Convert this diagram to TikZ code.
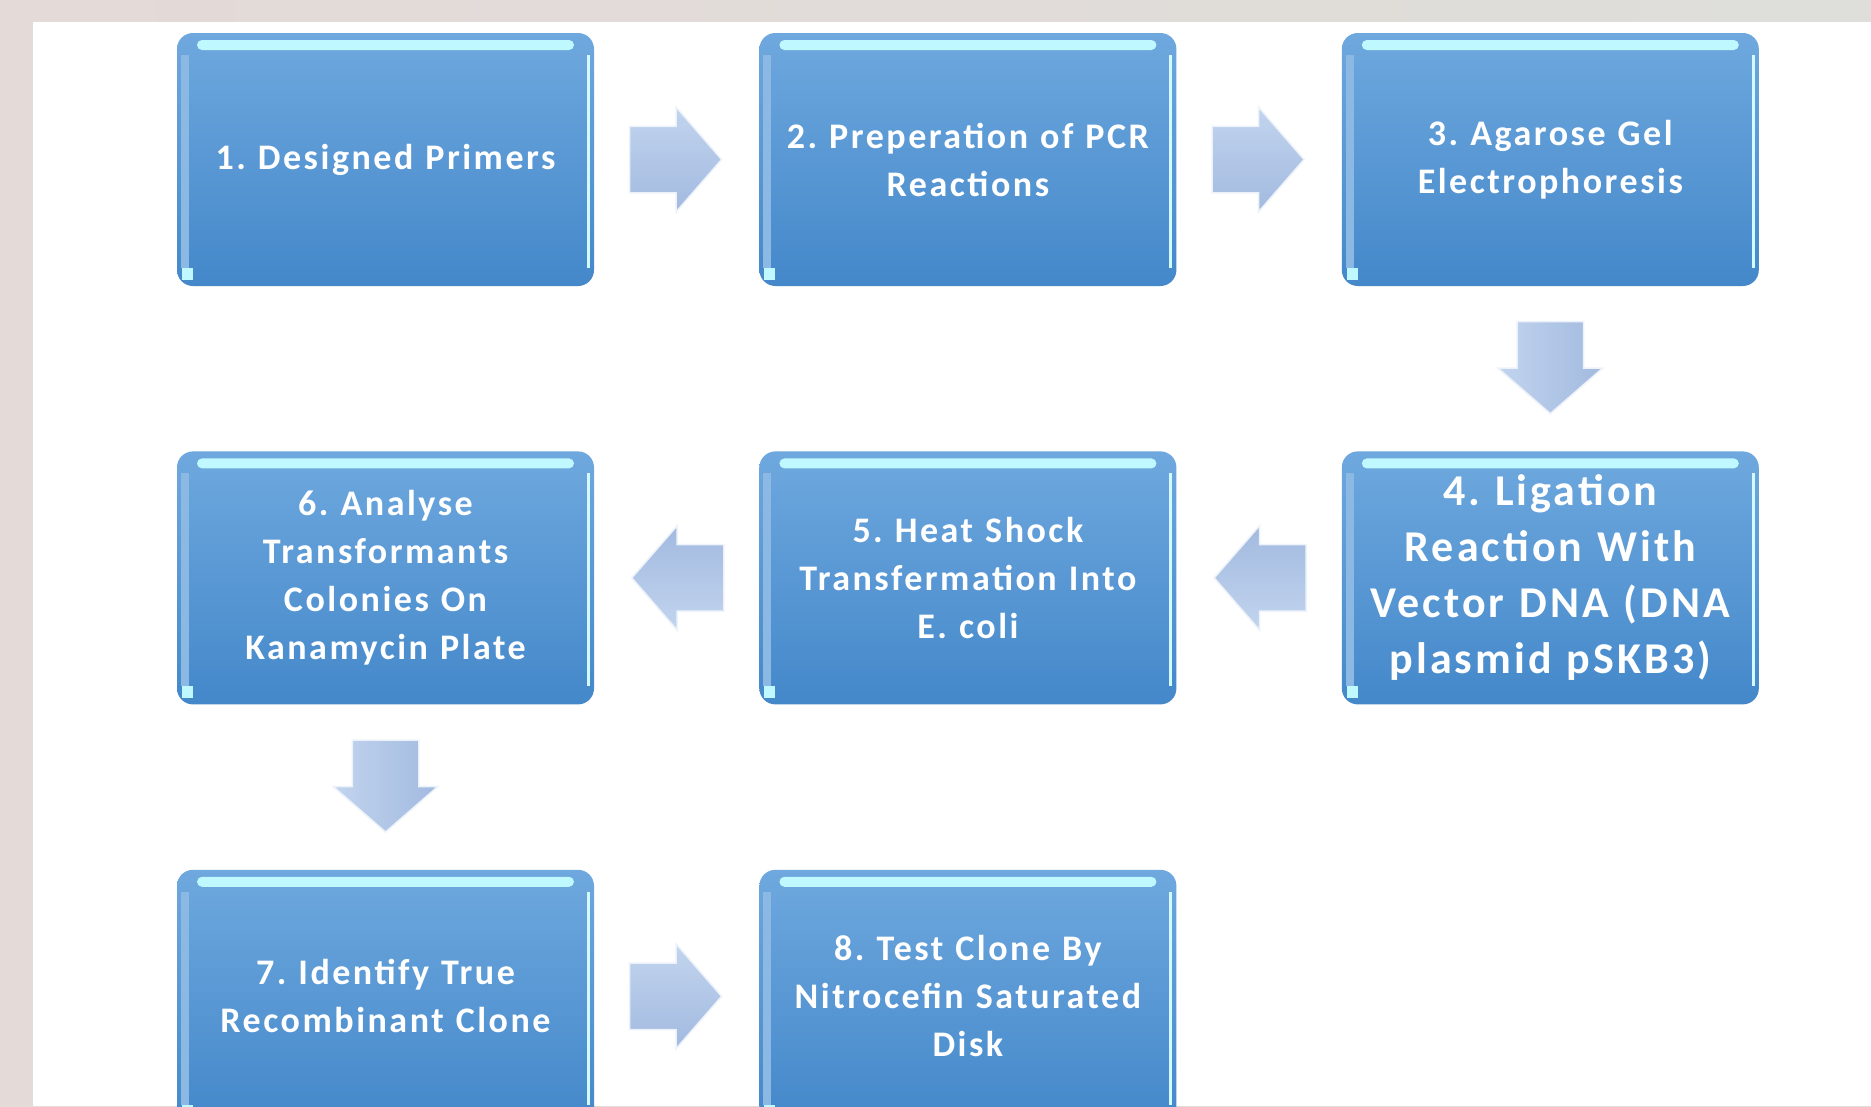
\documentclass[tikz,border=0pt]{standalone}
\usepackage{fontspec}
\setmainfont{Carlito}[LetterSpace=7]
\usetikzlibrary{positioning,shapes.arrows}

\definecolor{boxtop}{RGB}{110,168,222}
\definecolor{boxbot}{RGB}{68,136,202}
\definecolor{boxglow}{RGB}{192,248,255}
\definecolor{arrowtop}{RGB}{194,212,238}
\definecolor{arrowbot}{RGB}{162,186,224}
\definecolor{frameleft}{RGB}{228,218,216}
\definecolor{frameright}{RGB}{222,222,218}

\begin{document}
\frenchspacing
\begin{tikzpicture}[
x=1pt, y=-1pt,
node distance=165pt and 165pt,
stepbox/.style={rounded corners=16pt, top color=boxtop, bottom color=boxbot, minimum width=417pt, minimum height=253pt, text width=405pt, inner sep=0pt, align=center, text=white, font=\bfseries\fontsize{36}{48}\selectfont,
  path picture={
    \fill[boxglow, rounded corners=5pt] ([xshift=20pt,yshift=-7pt]path picture bounding box.north west) rectangle ([xshift=-20pt,yshift=-17pt]path picture bounding box.north east);
    \fill[boxglow!70!white, sharp corners] ([xshift=-7pt,yshift=-22pt]path picture bounding box.north east) rectangle ([xshift=-4pt,yshift=18pt]path picture bounding box.south east);
    \fill[boxtop!80!white, sharp corners] ([xshift=4pt,yshift=-22pt]path picture bounding box.north west) rectangle ([xshift=12pt,yshift=18pt]path picture bounding box.south west);
    \fill[boxglow, sharp corners] ([xshift=5pt,yshift=6pt]path picture bounding box.south west) rectangle ([xshift=16pt,yshift=18pt]path picture bounding box.south west);
  }},
flowarrow/.style={single arrow, anchor=tail, pos=0.21, top color=arrowtop, bottom color=arrowbot, draw=white!70!arrowtop, line width=1.5pt, minimum height=92pt, minimum width=0pt, text height=65pt, text depth=0pt, single arrow head extend=19pt, single arrow tip angle=98, inner sep=0pt},
downarrow/.style={flowarrow, rotate=-90, left color=arrowtop, right color=arrowbot},
backarrow/.style={flowarrow, rotate=180, top color=arrowbot, bottom color=arrowtop}
]
% frame and page
\useasboundingbox (0,0) rectangle (1871,1106);
\shade[left color=frameleft, right color=frameright] (0,0) rectangle (1871,1106);
\fill[white] (33,22) rectangle (1871,1106);

% steps
\node[stepbox] (primers) at (385.5,159.5) {1. Designed Primers};
\node[stepbox, right=of primers] (pcr) {2. Preperation of PCR\\Reactions};
\node[stepbox, right=of pcr] (gel) {3. Agarose Gel\\Electrophoresis};
\node[stepbox, below=of gel, font=\bfseries\fontsize{44}{56}\selectfont] (ligation) {4. Ligation\\Reaction With\\Vector DNA (DNA\\plasmid pSKB3)};
\node[stepbox, left=of ligation] (heat) {5. Heat Shock\\Transfermation Into\\E. coli};
\node[stepbox, left=of heat] (analyse) {6. Analyse\\Transformants\\Colonies On\\Kanamycin Plate};
\node[stepbox, below=of analyse] (identify) {7. Identify True\\Recombinant Clone};
\node[stepbox, right=of identify] (test) {8. Test Clone By\\Nitrocefin Saturated\\Disk};

% block arrows
\path (primers.east) -- node[flowarrow] {} (pcr.west);
\path (pcr.east) -- node[flowarrow] {} (gel.west);
\path (gel.south) -- node[downarrow] {} (ligation.north);
\path (ligation.west) -- node[backarrow] {} (heat.east);
\path (heat.west) -- node[backarrow] {} (analyse.east);
\path (analyse.south) -- node[downarrow] {} (identify.north);
\path (identify.east) -- node[flowarrow] {} (test.west);
\end{tikzpicture}
\end{document}
